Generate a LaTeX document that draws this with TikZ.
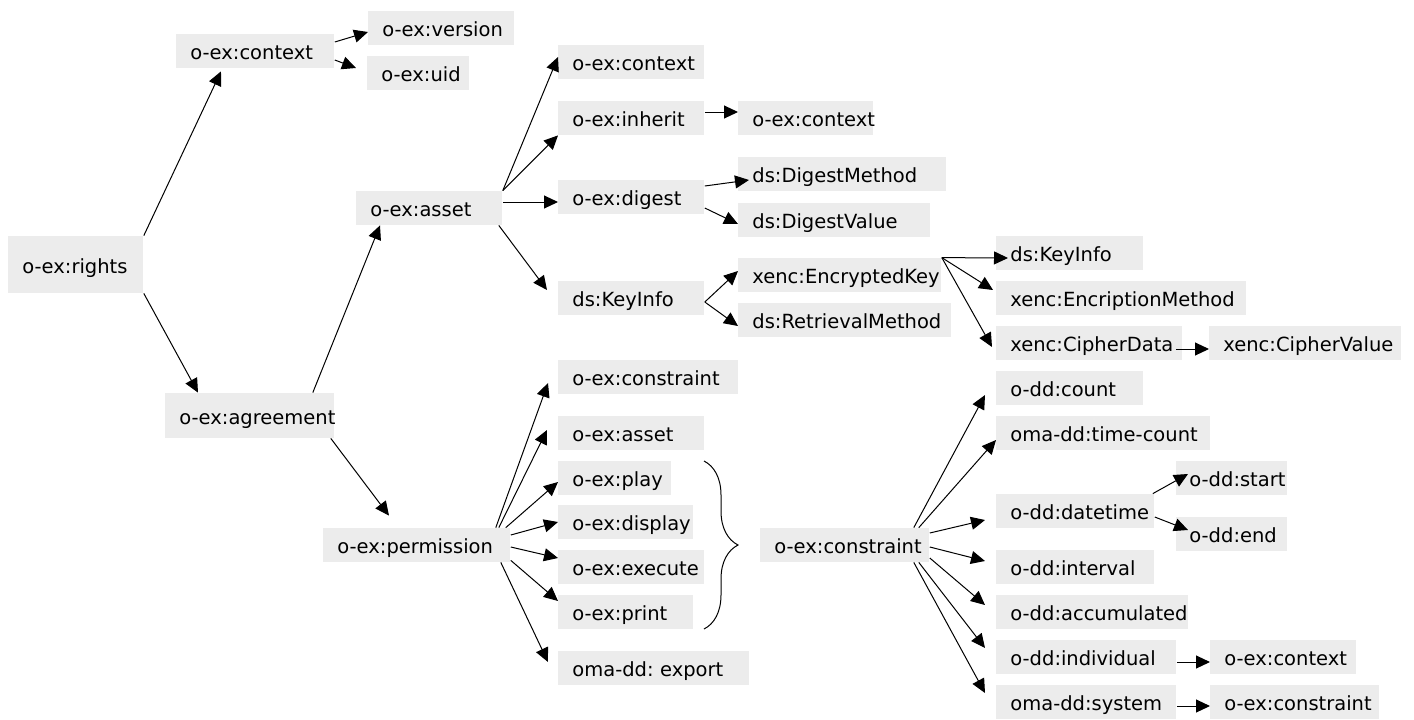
\documentclass[tikz,border=0pt]{standalone}
\usepackage{fontspec}
\setmainfont{DejaVu Sans}
\usetikzlibrary{arrows.meta}
\usetikzlibrary{decorations.pathreplacing}
\definecolor{boxgray}{HTML}{ECECEC}
\exhyphenpenalty=10000
\hyphenpenalty=10000
\frenchspacing

\begin{document}
\begin{tikzpicture}[x=0.5pt,y=-0.5pt]
    \tikzstyle box=[fill=boxgray,anchor=west,inner xsep=7pt,inner ysep=0pt,
      minimum height=17pt,align=left,text height=9.8pt,text depth=1.3pt,
      font=\fontsize{9.75}{11}\selectfont]
    \tikzstyle arr=[->,>={Triangle[length=7pt,width=6.5pt]},line width=0.5pt,black]
    \useasboundingbox (0,0) rectangle (1414,719);

    \node[box,text width=53.5pt,minimum height=28.5pt] (rights) at (8,264.5) {o-ex:rights};
    \node[box,text width=65pt] (context) at (176,51) {o-ex:context};
    \node[box,text width=59pt] (version) at (368,28) {o-ex:version};
    \node[box,text width=37pt] (uid) at (367,73) {o-ex:uid};
    \node[box,text width=59pt] (asset) at (356,208) {o-ex:asset};
    \node[box,text width=70.5pt,minimum height=22.5pt] (agreement) at (165,415.5) {o-ex:agreement};
    \node[box,text width=79.5pt] (permission) at (323,545) {o-ex:permission};

    \node[box,text width=59pt] (assetcontext) at (558,62) {o-ex:context};
    \node[box,text width=59pt] (inherit) at (558,118) {o-ex:inherit};
    \node[box,text width=53.5pt] (inheritcontext) at (738,118) {o-ex:context};
    \node[box,text width=59pt] (digest) at (558,197) {o-ex:digest};
    \node[box,text width=90pt] (digestmethod) at (738,174) {ds:DigestMethod};
    \node[box,text width=82pt] (digestvalue) at (738,220) {ds:DigestValue};
    \node[box,text width=59pt] (keyinfo) at (558,298) {ds:KeyInfo};
    \node[box,text width=87.5pt] (encryptedkey) at (738,275) {xenc:EncryptedKey};
    \node[box,text width=92.5pt] (retrieval) at (738,320) {ds:RetrievalMethod};
    \node[box,text width=59.5pt] (enckeyinfo) at (996,253) {ds:KeyInfo};
    \node[box,text width=111pt] (encmethod) at (996,298) {xenc:EncriptionMethod};
    \node[box,text width=79pt] (cipherdata) at (996,343) {xenc:CipherData};
    \node[box,text width=82pt] (ciphervalue) at (1209,343) {xenc:CipherValue};

    \node[box,text width=76pt] (permconstraint) at (558,377) {o-ex:constraint};
    \node[box,text width=59pt] (permasset) at (558,433) {o-ex:asset};
    \node[box,text width=42.5pt] (play) at (558,478) {o-ex:play};
    \node[box,text width=53.5pt] (display) at (558,522) {o-ex:display};
    \node[box,text width=59pt] (execute) at (558,567) {o-ex:execute};
    \node[box,text width=53.5pt] (print) at (558,612) {o-ex:print};
    \node[box,text width=81.5pt] (export) at (558,668) {oma-dd: export};
    \node[box,text width=70.5pt] (constraint) at (760,545) {o-ex:constraint};

    \node[box,text width=59.5pt] (count) at (996,388) {o-dd:count};
    \node[box,text width=93pt] (timecount) at (996,433) {oma-dd:time-count};
    \node[box,text width=65pt] (datetime) at (996,511) {o-dd:datetime};
    \node[box,text width=42.5pt,inner xsep=6.5pt] (dtstart) at (1176,478) {o-dd:start};
    \node[box,text width=42.5pt,inner xsep=6.5pt] (dtend) at (1176,534) {o-dd:end};
    \node[box,text width=65pt] (interval) at (996,567) {o-dd:interval};
    \node[box,text width=82pt] (accumulated) at (996,612) {o-dd:accumulated};
    \node[box,text width=76pt] (individual) at (996,657) {o-dd:individual};
    \node[box,text width=59pt] (indcontext) at (1210,657) {o-ex:context};
    \node[box,text width=76pt] (system) at (996,702) {oma-dd:system};
    \node[box,text width=70.5pt] (sysconstraint) at (1210,702) {o-ex:constraint};

    \draw[arr] (rights.north east) -- ([xshift=22.5pt,yshift=-1.5pt]context.south west);
    \draw[arr] (rights.south east) -- ([xshift=16.5pt]agreement.north west);
    \draw[arr] ([yshift=4.5pt]context.east) -- ([yshift=-2pt]version.west);
    \draw[arr] ([yshift=-4.5pt]context.east) -- ([xshift=-5.5pt,yshift=2.5pt]uid.west);
    \draw[arr] ([xshift=-11pt]agreement.north east) -- ([xshift=12pt]asset.south west);
    \draw[arr] ([xshift=-2pt]agreement.south east) -- ([xshift=33pt,yshift=6pt]permission.north west);

    \draw[arr] (asset.north east) -- ([yshift=2.5pt]assetcontext.west);
    \draw[arr] (asset.north east) -- (inherit.south west);
    \draw[arr] ([yshift=3pt]asset.east) -- ([yshift=-2.5pt]digest.west);
    \draw[arr] ([xshift=-2pt]asset.south east) -- ([xshift=-5.5pt,yshift=4pt]keyinfo.west);
    \draw[arr] ([yshift=3pt]inherit.east) -- ([yshift=3pt]inheritcontext.west);
    \draw[arr] ([yshift=5.5pt]digest.east) -- ([xshift=5.5pt,yshift=-3pt]digestmethod.west);
    \draw[arr] ([yshift=-5.5pt]digest.east) -- ([yshift=-2pt]digestvalue.west);
    \draw[arr] ([yshift=-2pt]keyinfo.east) -- ([yshift=2pt]encryptedkey.west);
    \draw[arr] ([yshift=-2pt]keyinfo.east) -- ([yshift=-3pt]retrieval.west);
    \draw[arr] (encryptedkey.north east) -- ([xshift=6pt,yshift=-2.5pt]enckeyinfo.west);
    \draw[arr] (encryptedkey.north east) -- ([xshift=-1.5pt,yshift=4pt]encmethod.west);
    \draw[arr] (encryptedkey.north east) -- ([xshift=-2pt,yshift=-2pt]cipherdata.west);
    \draw[arr] ([xshift=-3.5pt,yshift=-3pt]cipherdata.east) -- ([yshift=-3pt]ciphervalue.west);

    \draw[arr] ([xshift=-7.5pt]permission.north east) -- ([xshift=-5pt,yshift=-3pt]permconstraint.west);
    \draw[arr] ([xshift=-6pt]permission.north east) -- ([xshift=-5.5pt,yshift=1.5pt]permasset.west);
    \draw[arr] ([xshift=-2.5pt]permission.north east) -- ([yshift=-2pt]play.west);
    \draw[arr] ([yshift=5pt]permission.east) -- (display.west);
    \draw[arr] ([yshift=-1pt]permission.east) -- ([yshift=4.5pt]execute.west);
    \draw[arr] ([yshift=1pt]permission.south east) -- ([yshift=5.5pt]print.west);
    \draw[arr] ([xshift=-5pt]permission.south east) -- ([xshift=-5pt,yshift=3pt]export.west);
    \draw[decorate,decoration={brace,amplitude=17pt},line width=0.5pt] (704,461) -- (704,629);

    \draw[arr] ([xshift=-8pt]constraint.north east) -- ([xshift=-5.5pt,yshift=-3.5pt]count.west);
    \draw[arr] ([xshift=-5.5pt]constraint.north east) -- ([yshift=-3.5pt]timecount.west);
    \draw[arr] ([yshift=6pt]constraint.east) -- ([xshift=-5.5pt,yshift=-4.5pt]datetime.west);
    \draw[arr] ([yshift=-1pt]constraint.east) -- ([xshift=-5.5pt,yshift=3pt]interval.west);
    \draw[arr] ([yshift=-6.5pt]constraint.east) -- ([xshift=-5.5pt,yshift=3.5pt]accumulated.west);
    \draw[arr] ([xshift=-5.5pt]constraint.south east) -- ([xshift=-5.5pt,yshift=4.5pt]individual.west);
    \draw[arr] ([xshift=-8pt]constraint.south east) -- ([xshift=-5.5pt,yshift=4.5pt]system.west);
    \draw[arr] ([xshift=-1pt]datetime.north east) -- ([xshift=6pt,yshift=2pt]dtstart.west);
    \draw[arr] ([yshift=-3pt]datetime.east) -- ([xshift=6pt,yshift=2pt]dtend.west);
    \draw[arr] ([yshift=-2.5pt]individual.east) -- ([yshift=-2.5pt]indcontext.west);
    \draw[arr] ([yshift=-2pt]system.east) -- ([yshift=-2pt]sysconstraint.west);
  \end{tikzpicture}
\end{document}
